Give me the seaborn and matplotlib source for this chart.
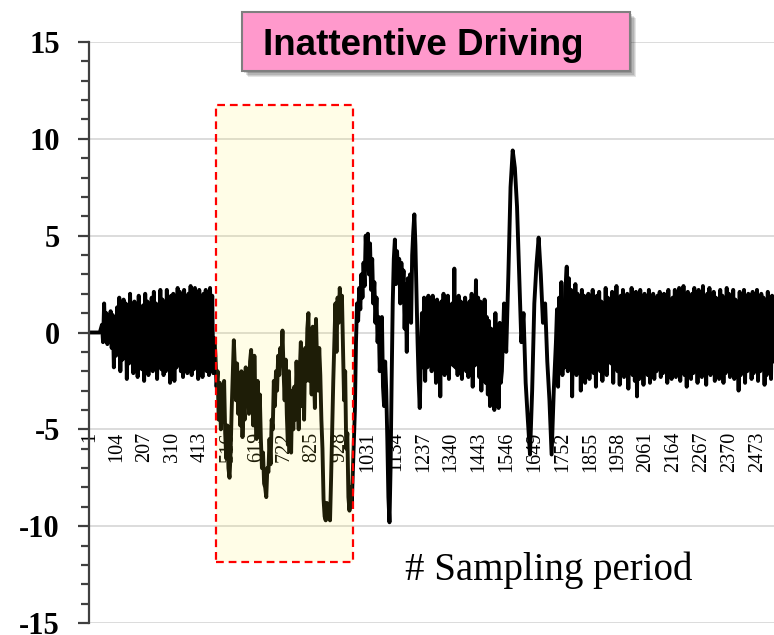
import numpy as np
import pandas as pd
import matplotlib
matplotlib.use("Agg")
import matplotlib.pyplot as plt
import seaborn as sns
from matplotlib.patches import Rectangle
from matplotlib.ticker import MultipleLocator, FixedLocator

# Each stretch of the recording: (first sampling period, spacing, readings)
lead_in = [0, 0, 0, 0, 0, 0]

steady_early = [
    0.4, -0.5, 1.5, -0.2, 1.0, -0.6, 0.8, -0.3, 1.1, -0.8,
    0.9, -1.8, 0.6, -1.2, 1.3, -0.7, 1.8, -2.0, 1.2, -1.4,
    1.7, -1.0, 1.5, -2.4, 1.0, -1.6, 2.0, -1.5, 1.4, -2.1,
    1.6, -1.2, 0.8, -2.3, 1.9, -1.0, 1.2, -1.9, 1.4, -2.5,
    2.0, -1.3, 1.6, -2.2, 1.1, -1.7, 1.8, -2.0, 2.1, -1.2,
    1.5, -2.4, 1.0, -1.5, 2.2, -1.9, 1.7, -2.2, 1.3, -2.0,
    2.2, -1.4, 1.6, -2.6, 1.9, -1.3, 2.0, -2.5, 1.5, -1.8,
    2.3, -1.4, 2.1, -2.0, 1.2, -2.3, 2.2, -1.7, 1.4, -2.1,
    2.0, -1.6, 2.4, -2.2, 1.5, -1.9, 2.3, -1.2, 1.8, -2.4,
    2.2, -1.5, 1.7, -2.3, 2.0, -1.8, 2.2, -2.0, 1.6, -2.2,
    2.3, -1.5, 1.9, -2.1,
]

inattentive = [
    -0.3, -1.2, -2.8, -2.0, -4.5, -2.6, -5.0, -3.2, -4.6, -2.5,
    -5.2, -6.5, -4.8, -7.0, -7.5, -6.2, -4.0, -2.2, -0.4, -1.8,
    -3.5, -1.6, -4.2, -2.8, -4.8, -2.0, -5.4, -3.6, -4.5, -1.8,
    -3.8, -2.4, -4.2, -1.5, -0.9, -3.0, -4.8, -1.2, -3.5, -5.5,
    -2.5, -4.8, -3.2, -5.5, -7.0, -6.2, -7.8, -8.0, -8.5, -7.0,
    -7.2, -5.5, -6.8, -4.5, -5.0, -2.5, -3.8, -2.0, -3.0, -1.2,
    -2.2, -0.8, -1.5, 0.1, -2.0, -3.5, -1.4, -4.2, -5.8, -2.0,
    -4.6, -6.2, -3.0, -5.0, -2.8, -4.5, -1.5, -3.2, -5.0, -2.0,
    -0.5, -3.8, -1.8, -4.5, -0.8, -2.5, 0.2, 1.0, -2.5, -1.0,
    -3.2, 0.3, -2.0, -3.9, 0.7, -1.5, -3.0, -0.8, -2.2, -4.5,
    -6.0, -8.6, -9.5, -9.7, -8.8, -9.6, -9.3, -9.7, -7.5, -5.0,
    -2.5, -0.5, 1.5, -1.0, 1.8, 0.5, 2.3, 1.2, 1.9, -0.8,
    -3.5, -2.0, -6.0, -5.2, -8.5, -9.2, -8.0, -9.0,
]

recovery = [
    -4.0, -0.5, 1.5, 0.6, 2.3, 1.2, 3.0, 1.8, 3.6, 2.4,
    5.0, 3.5, 5.1, 3.0, 4.6, 2.2, 3.8, 1.5, 2.6, 0.5,
    1.8, -0.5, 0.8, -2.0, -0.8, 0.8, -2.8, -3.8, -1.5, -3.0,
    -5.5, -8.5, -9.8, -7.0, -2.5, 1.5, 3.8, 4.8, 2.5, 4.2,
    3.0, 3.8, 1.5, 3.6, 2.0, 3.2, 0.2, 2.5, -1.0, 2.8,
    1.2, 3.0, 0.5, 4.0, 5.2, 6.1, 4.5, 2.0, -0.5, -2.5,
    -3.9, -1.5, 1.0, -1.8,
]

steady_mid = [
    1.8, -2.5, 1.2, -1.8, 1.9, -1.2, 1.5, -2.0, 1.9, -1.5,
    1.0, -2.6, 1.7, -1.2, 1.4, -3.3, 1.6, -1.8, 2.0, -2.2,
    1.3, -1.6, 1.9, -2.4, 0.9, -1.6, 1.5, -1.7, 3.3, -1.8,
    1.4, -2.2, 1.9, -1.0, 1.6, -2.4, 0.9, -1.6, 1.8, -2.0,
    1.2, -2.3, 1.6, -1.4, 2.0, -2.8, 1.1, -1.7, 2.7, -1.5,
    1.8, -2.3, 1.6, -3.0, 1.4, -1.9, 1.7, -2.6, 0.8, -3.2,
    0.6, -3.8, 0.2, -2.5, -0.4, -4.0, 1.0, -3.6, -1.0, -3.9,
    0.5, -2.6,
]

swerve = [
    -2.0, 1.5, -1.0, 3.0, 7.5, 9.4, 8.5, 6.5, 3.0, -0.5,
    1.0, -2.6, -4.5, -6.3, -3.0, 1.5, 3.5, 4.9, 3.0, 0.5,
    1.5, -1.5, -3.5, -6.3, -3.0,
]

steady_late = [
    -0.5, 1.2, -2.8, 1.8, -1.5, 2.6, -2.2, 1.0, -1.8, 2.4,
    3.4, -2.0, 2.8, -1.2, 2.2, -3.3, 1.6, -2.0, 2.5, -2.2,
    2.0, -1.6, 1.2, -3.0, 2.2, -1.8, 1.9, -2.6, 1.5, -1.2,
    2.0, -2.4, 1.4, -1.9, 2.2, -2.1, 1.0, -2.8, 1.9, -1.5,
    2.1, -2.0, 1.6, -2.5, 1.2, -1.7, 2.3, -2.2, 1.8, -1.4,
    1.5, -1.6, 2.1, -2.6, 1.7, -1.4, 2.4, -2.0, 1.3, -2.7,
    1.9, -1.8, 2.2, -2.3, 0.9, -2.0, 2.0, -2.9, 1.6, -1.6,
    2.3, -2.2, 1.4, -2.5, 2.1, -3.3, 1.8, -2.4, 2.2, -2.0,
    1.5, -2.7, 2.0, -1.5, 1.7, -2.2, 2.2, -2.6, 1.2, -1.9,
    2.0, -2.4, 1.6, -2.0, 1.9, -1.7, 2.1, -2.3, 1.4, -2.1,
    2.0, -1.6, 1.7, -2.6, 2.2, -2.0, 1.5, -2.4, 1.8, -1.5,
    2.2, -2.3, 1.3, -1.8, 2.3, -2.5, 1.9, -1.6, 2.4, -2.2,
    1.6, -2.8, 2.1, -1.7, 1.5, -2.4, 2.0, -2.1, 2.3, -1.6,
    1.4, -2.6, 2.2, -1.9, 1.7, -2.3, 2.4, -2.0, 1.2, -2.7,
    2.0, -1.8, 2.3, -2.2, 1.6, -1.5, 2.1, -2.5, 1.8, -2.0,
    1.5, -2.4, 2.2, -1.7, 1.9, -2.6, 1.4, -2.1, 2.3, -1.6,
    2.0, -2.3, 1.6, -2.0, 2.2, -2.4, 1.7, -1.8, 1.5, -3.0,
    2.1, -2.2, 1.8, -1.5, 2.2, -2.6, 1.3, -2.0, 2.0, -1.7,
    1.9, -2.4, 2.1, -2.1, 1.5, -1.8, 2.2, -2.5, 1.7, -2.0,
    2.0, -1.6, 1.8, -2.7, 1.4, -2.2, 2.1, -1.9, 1.6, -2.4,
    1.9, -1.5,
]

segment_starts = [0, 48, 464, 984, 1240, 1528, 1728]
segment_spacing = [8, 4, 4, 4, 4, 8, 4]
segments = [lead_in, steady_early, inattentive, recovery,
            steady_mid, swerve, steady_late]

category_ticks = list(range(1, 2474, 103))
category_labels = [str(t) for t in category_ticks]
value_ticks = [-15, -10, -5, 0, 5, 10, 15]
value_labels = [str(v) for v in value_ticks]

title_text = "Inattentive Driving"
axis_note = "# Sampling period"

rows = []
for start, step, vals in zip(segment_starts, segment_spacing, segments):
    for i, v in enumerate(vals):
        rows.append((start + i * step, v))
df = pd.DataFrame(rows, columns=["sample", "value"])

sns.set_theme(style="white")
plt.rcParams["axes.unicode_minus"] = False
plt.rcParams["font.family"] = ["Liberation Serif", "DejaVu Serif"]
plt.rcParams["text.color"] = "black"
plt.rcParams["xtick.color"] = "black"
plt.rcParams["ytick.color"] = "black"
plt.rcParams["xtick.labelcolor"] = "black"
plt.rcParams["ytick.labelcolor"] = "black"

W, H = 774, 635
fig = plt.figure(figsize=(W / 100, H / 100), dpi=100)
ax = fig.add_axes([89 / W, 12 / H, (W - 89) / W, 581 / H])

sns.lineplot(data=df, x="sample", y="value", color="black", linewidth=2.8,
             estimator=None, sort=False, ax=ax, zorder=2)

ax.set_xlim(0, 2535)
ax.set_ylim(-15, 15)
ax.set_xlabel("")
ax.set_ylabel("")

# value axis with minor ticks at every unit
ax.yaxis.set_major_locator(FixedLocator(value_ticks))
ax.yaxis.set_minor_locator(MultipleLocator(1))
ax.set_yticklabels(value_labels, fontsize=22, fontweight="bold",
                   family="Liberation Serif", color="black")
ax.tick_params(axis="y", which="major", direction="out", length=8, width=1.6,
               color="#404040", pad=13, left=True)
ax.tick_params(axis="y", which="minor", direction="out", length=6, width=1.6,
               color="#404040", left=True)
ax.yaxis.grid(True, which="major", color="#d9d9d9", linewidth=1.3)
ax.xaxis.grid(False)
ax.set_axisbelow(True)

# category axis crosses the value axis at -5
ax.spines["bottom"].set_position(("data", -5))
ax.spines["bottom"].set_visible(False)
ax.spines["top"].set_visible(False)
ax.spines["right"].set_visible(False)
ax.spines["left"].set_color("#404040")
ax.spines["left"].set_linewidth(1.6)
ax.xaxis.set_major_locator(FixedLocator(category_ticks))
ax.set_xticklabels(category_labels, rotation=90, fontsize=14.5,
                   family="Liberation Serif", color="black")
ax.tick_params(axis="x", which="both", length=0, pad=1.5, bottom=True)

# highlighted window
x0, x1, y0, y1 = 470, 978, -11.85, 11.75
ax.add_patch(Rectangle((x0, y0), x1 - x0, y1 - y0,
                       facecolor=(1.0, 0.94, 0.24, 0.12), edgecolor="none",
                       zorder=3))
ax.add_patch(Rectangle((x0, y0), x1 - x0, y1 - y0, fill=False,
                       edgecolor="#ff0000", linewidth=1.6,
                       linestyle=(0, (3.5, 2.2)), zorder=4))

# title badge with a soft shadow
bx0, bx1, by0, by1 = 242, 630, 12, 71
for i, a in enumerate([0.10, 0.10, 0.12, 0.14]):
    off = 6 - i * 1.2
    fig.add_artist(Rectangle(((bx0 + off) / W, (H - by1 - off) / H),
                             (bx1 - bx0) / W, (by1 - by0) / H,
                             transform=fig.transFigure, facecolor="black",
                             alpha=a, edgecolor="none", zorder=5))
fig.add_artist(Rectangle((bx0 / W, (H - by1) / H), (bx1 - bx0) / W,
                         (by1 - by0) / H, transform=fig.transFigure,
                         facecolor="#ff99cc", edgecolor="#7f7f7f",
                         linewidth=1.5, zorder=6))
fig.text(263 / W, (H - 55) / H, title_text, fontsize=26.5, fontweight="bold",
         family=["Liberation Sans", "DejaVu Sans"], color="black",
         ha="left", va="baseline", zorder=7)

fig.text(405 / W, (H - 580) / H, axis_note, fontsize=28,
         family=["Liberation Serif", "DejaVu Serif"], color="black",
         ha="left", va="baseline", zorder=7)

fig.savefig("out.png", dpi=100)
